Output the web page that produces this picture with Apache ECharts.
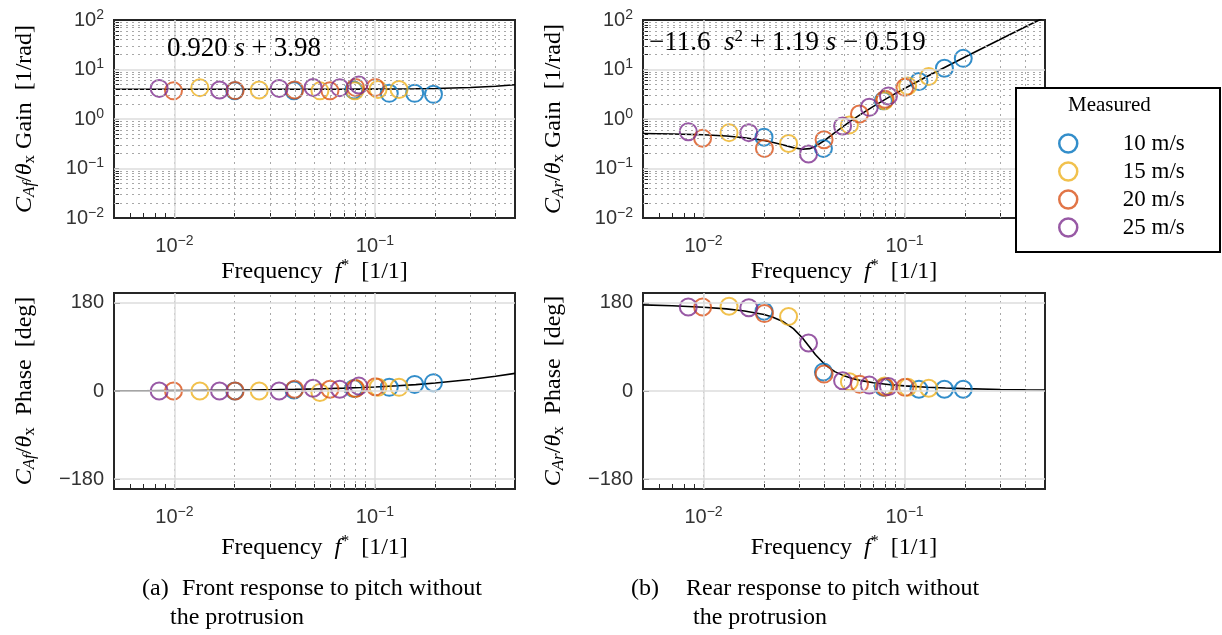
<!DOCTYPE html>
<html>
<head>
<meta charset="utf-8">
<script src="https://cdn.jsdelivr.net/npm/echarts@6/dist/echarts.min.js"></script>
<style>
  html, body { margin: 0; padding: 0; background: #fff; }
  #main { width: 1222px; height: 635px; }
</style>
</head>
<body>
<div id="main"></div>
<script>
// measured points, reduced frequency per wind speed
var speeds = ['10 m/s', '15 m/s', '20 m/s', '25 m/s'];
var colors = ['#0072BD', '#EDB120', '#D95319', '#7E2F8E'];

var freq10 = [0.0200, 0.0395, 0.0785, 0.118, 0.158, 0.196];
var freq15 = [0.0134, 0.0265, 0.0532, 0.0795, 0.1037, 0.132];
var freq20 = [0.0099, 0.0201, 0.0398, 0.0597, 0.0800, 0.1005];
var freq25 = [0.0084, 0.0168, 0.0333, 0.0492, 0.0668, 0.0832];

// front gain / phase
var gainFront10 = [3.70, 3.70, 3.85, 3.30, 3.30, 3.15];
var gainFront15 = [4.30, 3.85, 3.70, 3.70, 3.95, 3.95];
var gainFront20 = [3.70, 3.75, 3.85, 3.70, 4.35, 4.35];
var gainFront25 = [4.15, 3.85, 4.15, 4.35, 4.30, 4.85];
var phaseFront10 = [0, 2, 5, 7.5, 13.5, 17];
var phaseFront15 = [0, 0, -3, 5, 7.5, 7.5];
var phaseFront20 = [0, 0, 3.5, 3.5, 5, 8.5];
var phaseFront25 = [0, 0, 0, 5.5, 3.5, 10];

// rear gain / phase
var gainRear10 = [0.43, 0.255, 2.34, 5.7, 10.6, 16.8];
var gainRear15 = [0.53, 0.32, 0.76, 2.34, 4.65, 7.2];
var gainRear20 = [0.41, 0.255, 0.38, 1.26, 2.5, 4.36];
var gainRear25 = [0.555, 0.53, 0.196, 0.72, 1.72, 2.92];
var phaseRear10 = [163, 39, 7.5, 3.5, 3.5, 3.5];
var phaseRear15 = [173, 152, 19, 10, 7.5, 5.5];
var phaseRear20 = [171.5, 158, 34.5, 14, 7.5, 7.5];
var phaseRear25 = [171.5, 170, 98, 21, 12, 9];

// fitted curves
var fitFreq = [0.005, 0.007, 0.01, 0.013, 0.016, 0.02, 0.022, 0.025, 0.028, 0.031, 0.0337, 0.036, 0.04, 0.045, 0.05, 0.055, 0.06, 0.07, 0.085, 0.1, 0.13, 0.16, 0.2, 0.3, 0.4, 0.5];
var fitGainFront = [3.980, 3.980, 3.980, 3.981, 3.981, 3.982, 3.982, 3.983, 3.983, 3.984, 3.985, 3.985, 3.987, 3.989, 3.991, 3.993, 3.995, 4.001, 4.010, 4.022, 4.050, 4.086, 4.145, 4.341, 4.603, 4.919];
var fitPhaseFront = [0.42, 0.58, 0.83, 1.08, 1.33, 1.66, 1.83, 2.08, 2.33, 2.58, 2.80, 2.99, 3.32, 3.74, 4.15, 4.57, 4.98, 5.80, 7.04, 8.26, 10.69, 13.08, 16.20, 23.54, 30.16, 35.99];
var fitGainRear = [0.509, 0.499, 0.479, 0.452, 0.419, 0.368, 0.340, 0.299, 0.264, 0.245, 0.252, 0.279, 0.368, 0.529, 0.729, 0.959, 1.215, 1.803, 2.861, 4.129, 7.285, 11.268, 17.862, 40.758, 72.814, 114.03];
var fitPhaseRear = [175.8, 174.0, 171.0, 167.6, 163.4, 156.0, 151.1, 141.2, 127.4, 108.8, 89.8, 74.5, 54.5, 39.5, 30.9, 25.4, 21.7, 16.9, 12.8, 10.4, 7.7, 6.1, 4.8, 3.2, 2.4, 1.9];

// grid / tick helpers
var majorX = [0.01, 0.1];
var minorX = [0.006, 0.007, 0.008, 0.009, 0.02, 0.03, 0.04, 0.05, 0.06, 0.07, 0.08, 0.09, 0.2, 0.3, 0.4];
var minorY = [0.02, 0.03, 0.04, 0.05, 0.06, 0.07, 0.08, 0.09, 0.2, 0.3, 0.4, 0.5, 0.6, 0.7, 0.8, 0.9,
              2, 3, 4, 5, 6, 7, 8, 9, 20, 30, 40, 50, 60, 70, 80, 90];
var majorY = [0.01, 0.1, 1, 10, 100];
var phaseTicks = [-180, 0, 180];

var SERIF = "'Liberation Serif', 'Times New Roman', serif";
var SANS = "'Liberation Sans', Arial, sans-serif";
var TICK = '#333';
var GRID = '#dcdcdc';

var supRich = {
    b: { fontFamily: SANS, fontSize: 20, color: TICK },
    sup: { fontFamily: SANS, fontSize: 14, color: TICK, padding: [0, 0, 10, 0] }
};

function logLabel(v) {
    var e = Math.round(Math.log10(v));
    return '{b|10}{sup|' + (e < 0 ? '\u2212' + (-e) : e) + '}';
}

var nameRich = {
    t: { fontFamily: SERIF, fontSize: 24, color: '#000' },
    i: { fontFamily: SERIF, fontSize: 24, fontStyle: 'italic', color: '#000' },
    sub: { fontFamily: SERIF, fontSize: 17, color: '#000', padding: [9, 0, 0, 0] },
    subi: { fontFamily: SERIF, fontSize: 17, fontStyle: 'italic', color: '#000', padding: [9, 0, 0, 0] },
    sup: { fontFamily: SERIF, fontSize: 16, color: '#000', padding: [0, 0, 11, 0] }
};

function makeX(idx, gap) {
    return {
        type: 'log', logBase: 10, gridIndex: idx, min: 0.005, max: 0.5,
        name: '{t|Frequency  }{i|f}{sup|*}{t|  [1/1]}', nameLocation: 'middle', nameGap: gap,
        nameTextStyle: { rich: nameRich },
        axisLine: { show: false, onZero: false },
        axisTick: { show: true, inside: true, length: 5, customValues: majorX.concat(minorX), lineStyle: { color: '#262626' } },
        axisLabel: { customValues: majorX, formatter: logLabel, rich: supRich, margin: 16 },
        splitLine: { show: false }
    };
}

function makeGainY(idx, name, gap) {
    return {
        type: 'log', logBase: 10, gridIndex: idx, min: 0.01, max: 100,
        name: name, nameLocation: 'middle', nameGap: gap, nameRotate: 90,
        nameTextStyle: { rich: nameRich },
        axisLine: { show: false, onZero: false },
        axisTick: { show: true, inside: true, length: 5, customValues: majorY.concat(minorY), lineStyle: { color: '#262626' } },
        axisLabel: { customValues: majorY, formatter: logLabel, rich: supRich, margin: 10 },
        splitLine: { show: false }
    };
}

function makePhaseY(idx, name, gap) {
    return {
        type: 'value', gridIndex: idx, min: -200, max: 200,
        name: name, nameLocation: 'middle', nameGap: gap, nameRotate: 90,
        nameTextStyle: { rich: nameRich },
        axisLine: { show: false, onZero: false },
        axisTick: { show: true, inside: true, length: 6, customValues: phaseTicks, lineStyle: { color: '#262626' } },
        axisLabel: {
            customValues: phaseTicks, margin: 10, fontFamily: SANS, fontSize: 20, color: TICK,
            formatter: function (v) { return v < 0 ? '\u2212' + (-v) : String(v); }
        },
        splitLine: { show: false }
    };
}

function gridLines(isGain) {
    var dotted = { type: [2, 4], color: '#a8a8a8', width: 1 };
    var solid = { type: 'solid', color: GRID, width: 1.5 };
    var data = minorX.map(function (v) { return { xAxis: v, lineStyle: dotted }; });
    majorX.forEach(function (v) { data.push({ xAxis: v, lineStyle: solid }); });
    if (isGain) {
        minorY.forEach(function (v) { data.push({ yAxis: v, lineStyle: dotted }); });
        [0.1, 1, 10].forEach(function (v) { data.push({ yAxis: v, lineStyle: solid }); });
    } else {
        phaseTicks.forEach(function (v) { data.push({ yAxis: v, lineStyle: solid }); });
    }
    return { silent: true, symbol: 'none', label: { show: false }, animation: false, data: data };
}

function zip(xs, ys) {
    return xs.map(function (x, i) { return [x, ys[i]]; });
}

var freqs = [freq10, freq15, freq20, freq25];
var panels = [
    { fit: fitGainFront, pts: [gainFront10, gainFront15, gainFront20, gainFront25], gain: true },
    { fit: fitGainRear, pts: [gainRear10, gainRear15, gainRear20, gainRear25], gain: true },
    { fit: fitPhaseFront, pts: [phaseFront10, phaseFront15, phaseFront20, phaseFront25], gain: false },
    { fit: fitPhaseRear, pts: [phaseRear10, phaseRear15, phaseRear20, phaseRear25], gain: false }
];

var series = [];
panels.forEach(function (p, idx) {
    series.push({
        type: 'line', xAxisIndex: idx, yAxisIndex: idx, data: zip(fitFreq, p.fit),
        showSymbol: false, symbol: 'none', clip: true, silent: true, z: 3,
        lineStyle: { color: '#000', width: 1.6 },
        markLine: gridLines(p.gain)
    });
    p.pts.forEach(function (vals, s) {
        series.push({
            name: speeds[s], type: 'scatter', xAxisIndex: idx, yAxisIndex: idx,
            data: zip(freqs[s], vals), symbol: 'circle', symbolSize: 17, z: 4,
            itemStyle: { color: 'transparent', borderColor: colors[s], borderWidth: 2 }
        });
    });
});

var captionStyle = { fontFamily: SERIF, fontSize: 24, fill: '#000' };
function caption(text, left, top) {
    return { type: 'text', left: left, top: top, style: Object.assign({ text: text }, captionStyle) };
}

var myChart = echarts.init(document.getElementById('main'));
var option = {
    animation: false,
    color: colors,
    grid: [
        { left: 114, top: 20, width: 401, height: 198 },
        { left: 643, top: 20, width: 402, height: 198 },
        { left: 114, top: 293, width: 401, height: 196 },
        { left: 643, top: 293, width: 402, height: 196 }
    ].map(function (g) {
        g.show = true; g.borderColor = '#262626'; g.borderWidth = 2; g.containLabel = false;
        return g;
    }),
    xAxis: [makeX(0, 40), makeX(1, 40), makeX(2, 45), makeX(3, 45)],
    yAxis: [
        makeGainY(0, '{i|C}{subi|Af}{t|/}{i|\u03b8}{sub|x}{t| Gain  [1/rad]}', 76),
        makeGainY(1, '{i|C}{subi|Ar}{t|/}{i|\u03b8}{sub|x}{t| Gain  [1/rad]}', 76),
        makePhaseY(2, '{i|C}{subi|Af}{t|/}{i|\u03b8}{sub|x}{t|  Phase  [deg]}', 76),
        makePhaseY(3, '{i|C}{subi|Ar}{t|/}{i|\u03b8}{sub|x}{t|  Phase  [deg]}', 76)
    ],
    legend: {
        data: speeds, orient: 'vertical', left: 1053, top: 127, z: 20,
        itemWidth: 23, itemHeight: 18, itemGap: 5, icon: 'circle',
        itemStyle: { color: 'transparent', borderWidth: 2.5 },
        textStyle: { fontFamily: SERIF, fontSize: 23, color: '#000', padding: [0, 0, 0, 38] }
    },
    graphic: [
        { type: 'rect', z: 15, shape: { x: 1016, y: 88, width: 204, height: 164 },
          style: { fill: '#fff', stroke: '#000', lineWidth: 2 } },
        { type: 'text', z: 20, left: 1068, top: 95,
          style: { text: 'Measured', fontFamily: SERIF, fontSize: 21, fill: '#000' } },
        { type: 'text', z: 20, left: 167, top: 35,
          style: { text: '{t|0.920 }{i|s}{t| + 3.98}', rich: {
              t: { fontFamily: SERIF, fontSize: 27, fill: '#000' },
              i: { fontFamily: SERIF, fontSize: 27, fontStyle: 'italic', fill: '#000' } } } },
        { type: 'text', z: 20, left: 649, top: 28,
          style: { text: '{t|\u221211.6  }{i|s}{sup|2}{t| + 1.19 }{i|s}{t| \u2212 0.519}', rich: {
              t: { fontFamily: SERIF, fontSize: 27, fill: '#000' },
              i: { fontFamily: SERIF, fontSize: 27, fontStyle: 'italic', fill: '#000' },
              sup: { fontFamily: SERIF, fontSize: 17, fill: '#000', padding: [0, 0, 12, 0] } } } },
        caption('(a)', 142, 577),
        caption('Front response to pitch without', 182, 577),
        caption('the protrusion', 170, 606),
        caption('(b)', 631, 577),
        caption('Rear response to pitch without', 686, 577),
        caption('the protrusion', 693, 606)
    ],
    series: series
};
myChart.setOption(option);
</script>
</body>
</html>
